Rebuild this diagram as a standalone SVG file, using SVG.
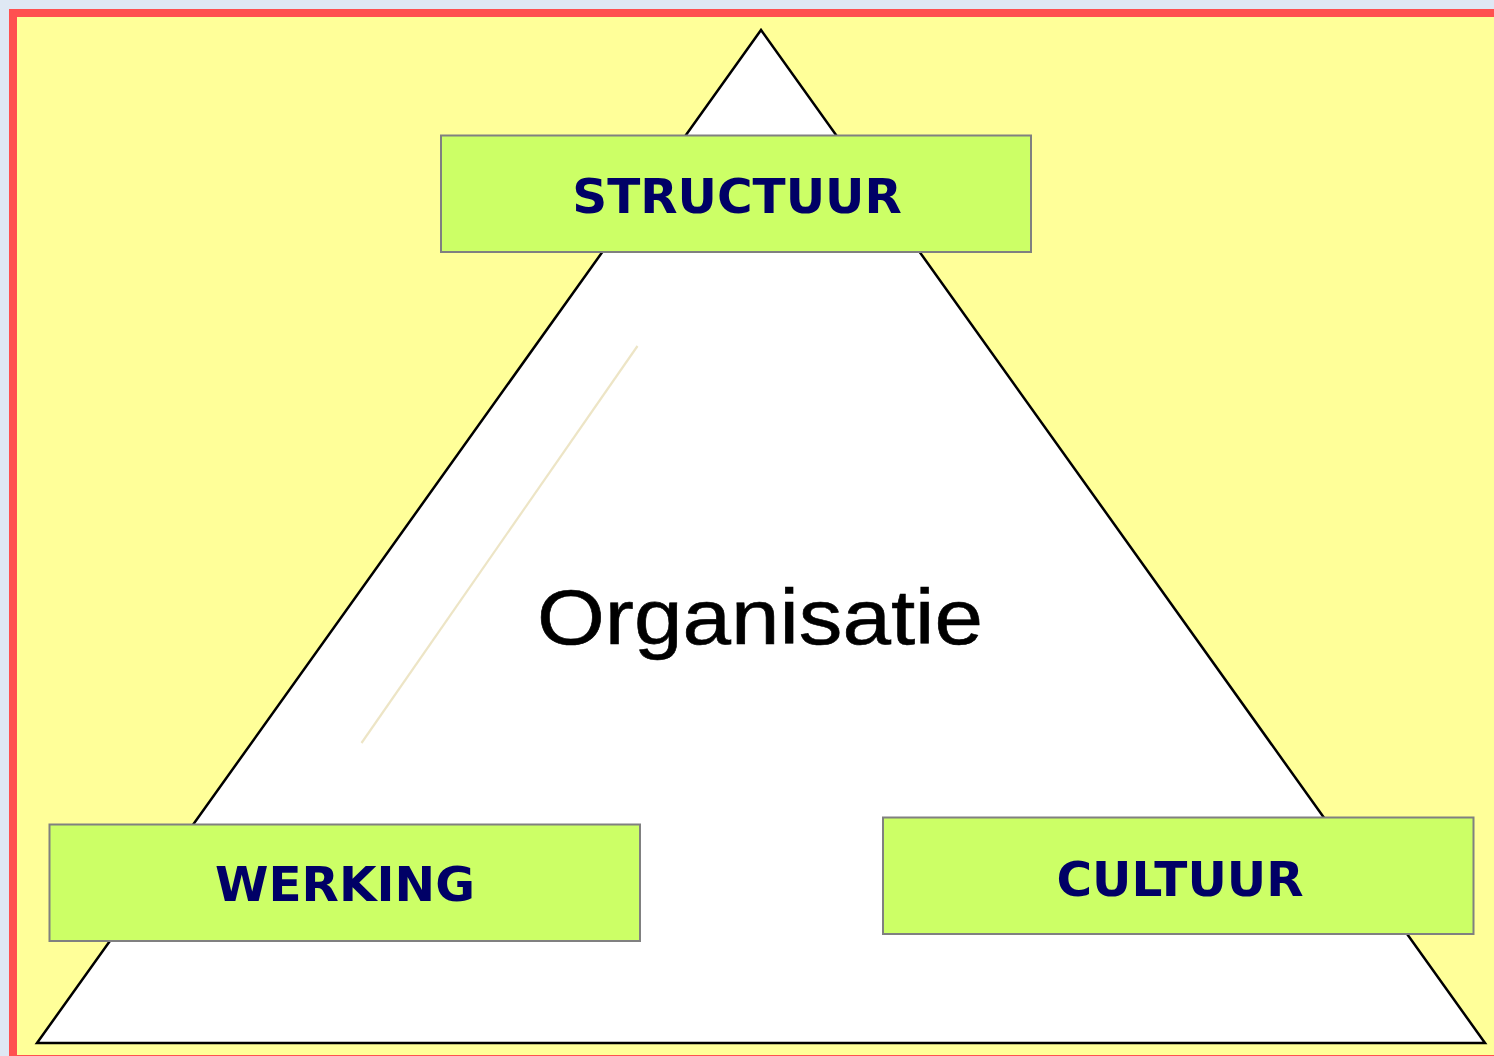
<svg xmlns="http://www.w3.org/2000/svg" width="1494" height="1056" viewBox="0 0 1494 1056">
<style>
.box{fill:#ccff66;stroke:#808080;stroke-width:2}
.lbl{font-family:"DejaVu Sans",Verdana,sans-serif;font-weight:bold;font-size:48.5px;fill:#000066;text-anchor:middle}
</style>
<rect x="0" y="0" width="1494" height="1056" fill="#dfe8f4"/>
<rect x="13" y="13" width="1500" height="1046" fill="#ffff99" stroke="#ff5050" stroke-width="8"/>
<g id="pyramid">
<polygon points="761,30 37,1043 1485,1043" fill="#ffffff" stroke="#000000" stroke-width="2.5" stroke-linejoin="miter"/>
<line x1="637.5" y1="346" x2="361.5" y2="743" stroke="#ede5c6" stroke-width="2.2"/>
<text x="760" y="644" font-family="Liberation Sans,Arial,sans-serif" font-size="78" fill="#000000" stroke="#000000" stroke-width="0.6" textLength="446" lengthAdjust="spacingAndGlyphs" text-anchor="middle">Organisatie</text>
</g>
<g id="connectors"></g>
<g id="structuur">
<rect class="box" x="441" y="135.5" width="590" height="116.5"/>
<text class="lbl" x="737" y="213">STRUCTUUR</text>
</g>
<g id="werking">
<rect class="box" x="49.5" y="824.5" width="590.5" height="116.5"/>
<text class="lbl" x="345" y="901">WERKING</text>
</g>
<g id="cultuur">
<rect class="box" x="883" y="817.5" width="590.5" height="116.5"/>
<text class="lbl" x="1180" y="895.5">CULTUUR</text>
</g>
</svg>
